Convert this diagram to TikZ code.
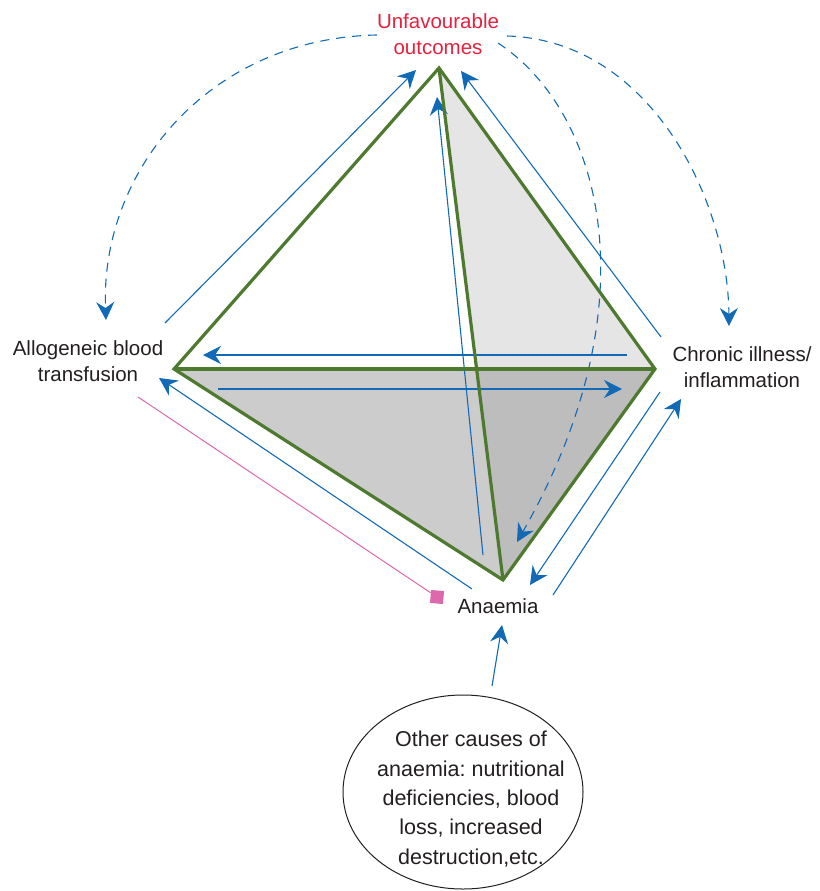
\documentclass[tikz,border=0pt]{standalone}
\usepackage{fontspec}
\setmainfont{Liberation Sans}
\frenchspacing
\usetikzlibrary{arrows.meta,shapes.geometric}
\definecolor{edgegreen}{RGB}{77,122,46}
\definecolor{flowblue}{RGB}{18,106,182}
\definecolor{outred}{RGB}{232,32,62}
\definecolor{linkpink}{RGB}{222,104,172}
\definecolor{inkgrey}{RGB}{35,31,32}

\begin{document}
\begin{tikzpicture}[x=1pt, y=-1pt,
    edge/.style={edgegreen, line width=3.2pt},
    flow/.style={flowblue, line width=1.1pt, -{Stealth[length=18pt, width=18pt, inset=6pt]}},
    flowdash/.style={flow, dash pattern=on 9pt off 7pt},
    lbl/.style={align=center, inner sep=0pt, text=inkgrey, font=\fontsize{20.5}{25.5}\selectfont}]
  \useasboundingbox (0,0) rectangle (819,891);

  % corners
  \coordinate (T) at (439,68);
  \coordinate (L) at (174,369);
  \coordinate (R) at (655,369);
  \coordinate (B) at (503,580);

  % labels
  \node[lbl, text=outred] (out) at (438,34) {Unfavourable\\outcomes};
  \node[lbl] (abt) at (88,361) {Allogeneic blood\\transfusion};
  \node[lbl] (chr) at (742,367) {Chronic illness/\\inflammation};
  \node[lbl] (ana) at (498,606) {Anaemia};
  \node[draw=inkgrey, ellipse, line width=1pt, minimum width=240pt, minimum height=194pt] (oth) at (463,792) {};
  \node[align=center, inner sep=0pt, text=inkgrey, font=\fontsize{21.5}{29.3}\selectfont] (othtxt) at (471,799)
    {Other causes of\\anaemia: nutritional\\deficiencies, blood\\loss, increased\\destruction,etc.};

  % faces
  \fill[black!10] (T) -- (R) -- (B) -- cycle;
  \fill[black!20] (L) -- (R) -- (B) -- cycle;
  \fill[black!26] (intersection of T--B and L--R) -- (R) -- (B) -- cycle;

  % arrow ends
  \coordinate (lt1) at (165,323);  \coordinate (lt2) at (416,70);
  \coordinate (rt1) at (661,337);  \coordinate (rt2) at (461,71);
  \coordinate (bt1) at (483,555);  \coordinate (bt2) at (437,97);
  \coordinate (rl1) at (627,355);  \coordinate (rl2) at (203,355);
  \coordinate (lr1) at (218,389);  \coordinate (lr2) at (622,389);
  \coordinate (bl1) at (472,589);  \coordinate (bl2) at (159,378);
  \coordinate (rb1) at (660,392);  \coordinate (rb2) at (530,585);
  \coordinate (br1) at (553,595);  \coordinate (br2) at (681,399);
  \coordinate (ob1) at (492,686);  \coordinate (ob2) at (502,625);
  \coordinate (pk) at (138,397);

  \draw[flow] (lt1) -- (lt2);
  \draw[flow] (rt1) -- (rt2);
  \draw[flow] (bt1) -- (bt2);
  \draw[flow] (rl1) -- (rl2);
  \draw[flow] (lr1) -- (lr2);
  \draw[flow] (bl1) -- (bl2);
  \draw[flow] (rb1) -- (rb2);
  \draw[flow] (br1) -- (br2);
  \draw[flow] (ob1) -- (ob2);

  % dashed arcs from the outcomes
  \draw[flowdash] (377,35) .. controls (210,38) and (100,170) .. (106,320);
  \draw[flowdash] (507,36) .. controls (650,40) and (728,200) .. (729,326);
  \draw[flowdash] (498,43) .. controls (600,110) and (655,300) .. (517,542);

  % pink link
  \node[fill=linkpink, inner sep=0pt, minimum size=13pt, rotate=-5] (sq) at (437,597) {};
  \draw[linkpink, line width=1pt] (pk) -- (sq);

  % edges
  \draw[edge] (T) -- (L) -- (B) -- (R) -- cycle;
  \draw[edge] (L) -- (R);
  \draw[edge] (T) -- (B);
\end{tikzpicture}
\end{document}
